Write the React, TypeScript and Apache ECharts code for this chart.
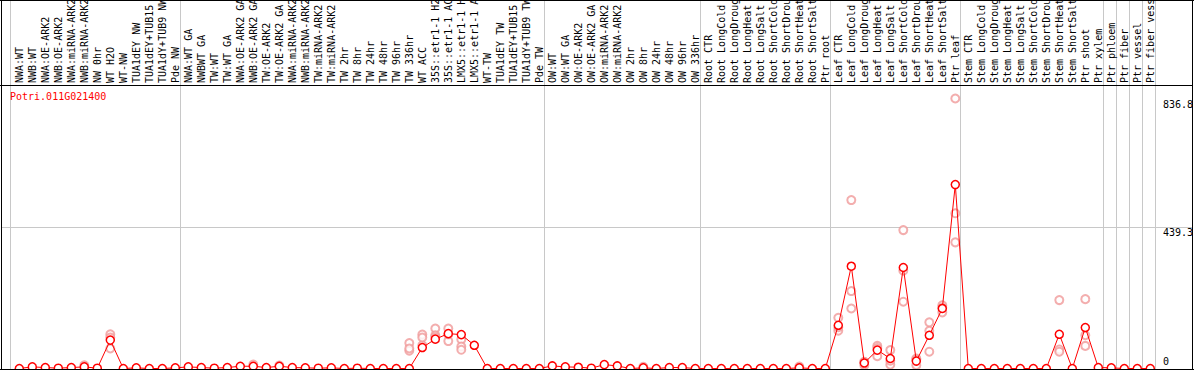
import React, { useEffect, useRef } from "react";
import * as echarts from "echarts";

const groupNW = ["NWA:WT", "NWB:WT", "NWA:OE-ARK2", "NWB:OE-ARK2", "NWA:miRNA-ARK2", "NWB:miRNA-ARK2", "NW 0hr", "WT H2O", "WT-NW", "TUA1dEY NW", "TUA1dEY+TUB15 NW", "TUA1dY+TUB9 NW", "Pde NW"];
const groupTW = ["NWA:WT GA", "NWBWT GA", "TW:WT", "TW:WT GA", "NWA:OE-ARK2 GA", "NWB:OE-ARK2 GA", "TW:OE-ARK2", "TW:OE-ARK2 GA", "NWA:miRNA-ARK2", "NWB:miRNA-ARK2", "TW:miRNA-ARK2", "TW:miRNA-ARK2", "TW 2hr", "TW 8hr", "TW 24hr", "TW 48hr", "TW 96hr", "TW 336hr", "WT ACC", "35S::etr1-1 H2O", "35S::etr1-1 ACC", "LMX5::etr1-1 H2O", "LMX5::etr1-1 ACC", "WT-TW", "TUA1dEY TW", "TUA1dEY+TUB15 TW", "TUA1dY+TUB9 TW", "Pde TW"];
const groupOW = ["OW:WT", "OW:WT GA", "OW:OE-ARK2", "OW:OE-ARK2 GA", "OW:miRNA-ARK2", "OW:miRNA-ARK2", "OW 2hr", "OW 8hr", "OW 24hr", "OW 48hr", "OW 96hr", "OW 336hr"];
const groupRoot = ["Root CTR", "Root LongCold", "Root LongDrought", "Root LongHeat", "Root LongSalt", "Root ShortCold", "Root ShortDrought", "Root ShortHeat", "Root ShortSalt", "Ptr root"];
const groupLeaf = ["Leaf CTR", "Leaf LongCold", "Leaf LongDrought", "Leaf LongHeat", "Leaf LongSalt", "Leaf ShortCold", "Leaf ShortDrought", "Leaf ShortHeat", "Leaf ShortSalt", "Ptr leaf"];
const groupStem = ["Stem CTR", "Stem LongCold", "Stem LongDrought", "Stem LongHeat", "Stem LongSalt", "Stem ShortCold", "Stem ShortDrought", "Stem ShortHeat", "Stem ShortSalt", "Ptr shoot", "Ptr xylem"];
const groupPhloem = ["Ptr phloem"];
const groupFiber = ["Ptr fiber"];
const groupVessel = ["Ptr vessel"];
const groupFiberVessel = ["Ptr fiber vessel"];

const groups = [groupNW, groupTW, groupOW, groupRoot, groupLeaf, groupStem, groupPhloem, groupFiber, groupVessel, groupFiberVessel];
const categories = groups.flat();

const valuesNW = [0, 5, 3, 1, 3, 5, 1, 88, 0, 2, 0, 0, 2];
const valuesTW = [5, 3, 1, 3, 7, 7, 3, 7, 3, 2, 1, 2, 0, 1, 0, 0, 0, 0, 65, 91, 108, 105, 72, 0, 0, 0, 0, 0];
const valuesOW = [8, 5, 4, 1, 12, 8, 0, 2, 0, 3, 3, 0];
const valuesRoot = [0, 0, 0, 0, 0, 0, 0, 2, 0, 0];
const valuesLeaf = [134, 317, 17, 57, 31, 313, 23, 103, 186, 570];
const valuesStem = [0, 0, 0, 0, 0, 0, 0, 106, 0, 127, 3];
const valuesPtr = [2, 0, 0, 0];
const meanValues = [...valuesNW, ...valuesTW, ...valuesOW, ...valuesRoot, ...valuesLeaf, ...valuesStem, ...valuesPtr];

// replicate samples: [category, value]
const replicates: [string, number][] = [
  ["WT H2O", 106], ["WT H2O", 62], ["WT H2O", 96],
  ["NWB:miRNA-ARK2", 10],
  ["NWB:OE-ARK2 GA", 12], ["TW:OE-ARK2 GA", 9],
  ["TW 336hr", 79], ["TW 336hr", 55], ["TW 336hr", 62],
  ["WT ACC", 105], ["WT ACC", 72], ["WT ACC", 96],
  ["35S::etr1-1 H2O", 124], ["35S::etr1-1 H2O", 103], ["35S::etr1-1 H2O", 97],
  ["35S::etr1-1 ACC", 124], ["35S::etr1-1 ACC", 85], ["35S::etr1-1 ACC", 106],
  ["LMX5::etr1-1 H2O", 90], ["LMX5::etr1-1 H2O", 68], ["LMX5::etr1-1 H2O", 58],
  ["OW 8hr", 5],
  ["Root ShortHeat", 6],
  ["Leaf CTR", 157], ["Leaf CTR", 117], ["Leaf CTR", 128],
  ["Leaf LongCold", 522], ["Leaf LongCold", 240], ["Leaf LongCold", 186],
  ["Leaf LongDrought", 20], ["Leaf LongDrought", 10], ["Leaf LongDrought", 21],
  ["Leaf LongHeat", 70], ["Leaf LongHeat", 38], ["Leaf LongHeat", 63],
  ["Leaf LongSalt", 57], ["Leaf LongSalt", 12], ["Leaf LongSalt", 24],
  ["Leaf ShortCold", 429], ["Leaf ShortCold", 207], ["Leaf ShortCold", 303],
  ["Leaf ShortDrought", 31], ["Leaf ShortDrought", 10], ["Leaf ShortDrought", 28],
  ["Leaf ShortHeat", 143], ["Leaf ShortHeat", 117], ["Leaf ShortHeat", 52],
  ["Leaf ShortSalt", 196], ["Leaf ShortSalt", 174], ["Leaf ShortSalt", 188],
  ["Ptr leaf", 836.8], ["Ptr leaf", 481], ["Ptr leaf", 391],
  ["Stem ShortHeat", 212], ["Stem ShortHeat", 59], ["Stem ShortHeat", 52],
  ["Ptr shoot", 215], ["Ptr shoot", 103], ["Ptr shoot", 70],
];

const geneName = "Potri.011G021400";
const yMax = 878.6;
const yTickValues = [836.8, 439.3, 0];
const yTickLabels = ["836.8", "439.3", "0"];
const gridValue = 439.3;

const FONT = "DejaVu Sans Mono";

export default function App() {
  const ref = useRef<HTMLDivElement>(null);
  useEffect(() => {
    document.body.style.margin = "0";
    const el = ref.current!;
    const chart = echarts.init(el, null, { renderer: "svg" });
    const repData = replicates.map(([c, v]) => [categories.indexOf(c), v]);
    chart.setOption({
      animation: false,
      backgroundColor: "#fff",
      grid: { left: 12.8, width: 1144, top: 85, bottom: 1.5, containLabel: false, outerBoundsMode: "none" },
      xAxis: {
        type: "category",
        position: "top",
        data: categories,
        boundaryGap: true,
        axisLine: { show: false },
        axisTick: { show: false },
        splitLine: { show: false },
        axisLabel: { rotate: 90, interval: 0, margin: 2, fontFamily: FONT, fontSize: 10, color: "#000" },
      },
      yAxis: { type: "value", min: 0, max: yMax, show: false },
      series: [
        {
          type: "scatter",
          data: repData,
          symbol: "emptyCircle",
          symbolSize: 8,
          clip: false,
          itemStyle: { color: "#f09a9a", borderColor: "#f09a9a", borderWidth: 1.2 },
          z: 2,
        },
        {
          type: "line",
          data: meanValues,
          symbol: "circle",
          symbolSize: 8,
          showAllSymbol: true,
          clip: false,
          lineStyle: { color: "#ff0000", width: 1 },
          itemStyle: { color: "#ffffff", borderColor: "#ff0000", borderWidth: 1.5 },
          z: 3,
        },
      ],
    });

    const xOf = (i: number) => chart.convertToPixel({ xAxisIndex: 0 }, i) as number;
    const yOf = (v: number) => chart.convertToPixel({ yAxisIndex: 0 }, v) as number;
    const W = 1194;
    const gray = "#c8c8c8";
    const graphics: any[] = [];
    // separators
    const sepXs: number[] = [xOf(0) - 9];
    let idx = -1;
    groups.forEach((g) => {
      idx += g.length;
      sepXs.push(xOf(idx) + 5);
    });
    sepXs.forEach((x) => {
      graphics.push({ type: "line", z: 0, shape: { x1: Math.round(x) + 0.5, y1: 0, x2: Math.round(x) + 0.5, y2: 369 }, style: { stroke: gray, lineWidth: 1 } });
    });
    const gy = Math.round(yOf(gridValue)) + 0.5;
    graphics.push({ type: "line", z: 0, shape: { x1: 1, y1: gy, x2: 1192, y2: gy }, style: { stroke: gray, lineWidth: 1 } });
    // borders
    graphics.push({ type: "line", z: 100, shape: { x1: 0, y1: 0.5, x2: W, y2: 0.5 }, style: { stroke: "#000", lineWidth: 1 } });
    graphics.push({ type: "line", z: 100, shape: { x1: 0, y1: 85.5, x2: 1193, y2: 85.5 }, style: { stroke: "#000", lineWidth: 1 } });
    graphics.push({ type: "line", z: 100, shape: { x1: 1.5, y1: 0, x2: 1.5, y2: 370 }, style: { stroke: "#000", lineWidth: 1 } });
    graphics.push({ type: "line", z: 100, shape: { x1: 1192.5, y1: 0, x2: 1192.5, y2: 370 }, style: { stroke: "#000", lineWidth: 1 } });
    graphics.push({ type: "line", z: 100, shape: { x1: 0, y1: 369.5, x2: W, y2: 369.5 }, style: { stroke: "#000", lineWidth: 1 } });
    // title
    graphics.push({ type: "text", z: 50, x: 10, y: 91, style: { text: geneName, fill: "#ff0000", font: `10px "${FONT}"`, textVerticalAlign: "top" } });
    // y labels
    yTickValues.forEach((v, i) => {
      const isZero = v === 0;
      graphics.push({
        type: "text",
        z: 50,
        x: 1163,
        y: isZero ? 366 : yOf(v) + 1,
        style: { text: yTickLabels[i], fill: "#000", font: `10px "${FONT}"`, textVerticalAlign: isZero ? "bottom" : "top" },
      });
    });
    chart.setOption({ graphic: graphics });
    return () => chart.dispose();
  }, []);
  return <div ref={ref} style={{ width: 1194, height: 370 }} />;
}
